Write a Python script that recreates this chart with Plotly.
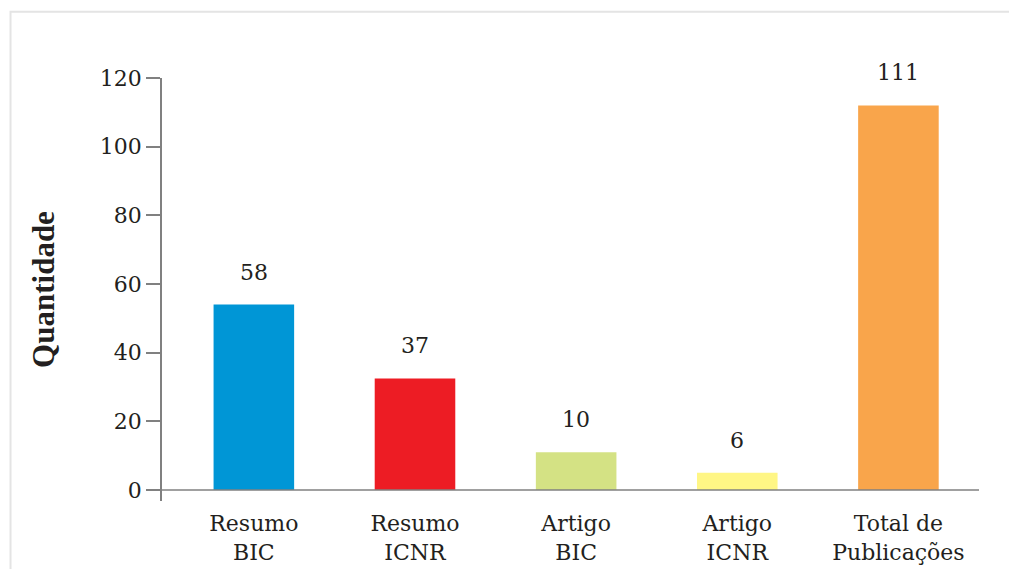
import plotly.graph_objects as go

# dados
categorias = ["Resumo<br>BIC", "Resumo<br>ICNR", "Artigo<br>BIC", "Artigo<br>ICNR", "Total de<br>Publicações"]
alturas = [54, 32.5, 11, 5, 112]
rotulos = ["58", "37", "10", "6", "111"]
cores = ["#0096d6", "#ed1c24", "#d4e284", "#fff685", "#f9a54b"]
ticks_y = [0, 20, 40, 60, 80, 100, 120]

FONTE = "DejaVu Serif"
COR_TEXTO = "#231f20"

fig = go.Figure()

fig.add_trace(go.Bar(
    x=categorias,
    y=alturas,
    marker=dict(color=cores, line=dict(width=0)),
    width=0.5,
    hoverinfo="skip",
    showlegend=False
))

# rótulos acima das barras
for cat, h, txt in zip(categorias, alturas, rotulos):
    fig.add_annotation(
        x=cat, y=h, text=txt, showarrow=False,
        yanchor="bottom", yshift=18,
        font=dict(family=FONTE, size=22, color=COR_TEXTO)
    )

# linha do eixo x (passa um pouco à esquerda do eixo y)
fig.add_shape(type="line", xref="paper", yref="y",
              x0=-0.0122, x1=1, y0=0, y1=0,
              line=dict(color="#808080", width=1.5))

# moldura cinza clara
fig.add_shape(type="rect", xref="paper", yref="paper",
              x0=-0.1854, x1=2, y0=-1, y1=1.1568,
              line=dict(color="#e4e4e4", width=2), layer="below")

fig.update_layout(
    width=1017,
    height=569,
    margin=dict(l=154, r=46, t=70, b=67),
    plot_bgcolor="white",
    paper_bgcolor="white",
    bargap=0.5,
    xaxis=dict(
        range=[-0.57, 4.5],
        showline=False,
        showgrid=False,
        zeroline=False,
        ticks="",
        tickfont=dict(family=FONTE, size=22, color=COR_TEXTO),
        ticklabelstandoff=7
    ),
    yaxis=dict(
        range=[-3.2, 120],
        tickvals=ticks_y,
        showline=True,
        linecolor="#808080",
        linewidth=1.5,
        showgrid=False,
        zeroline=False,
        ticks="outside",
        ticklen=14,
        tickcolor="#808080",
        tickwidth=1.5,
        tickfont=dict(family=FONTE, size=22, color=COR_TEXTO),
        title=dict(text="<b>Quantidade</b>",
                   font=dict(family="Liberation Serif", size=31, color=COR_TEXTO),
                   standoff=36)
    )
)

fig.write_html("out.html")
